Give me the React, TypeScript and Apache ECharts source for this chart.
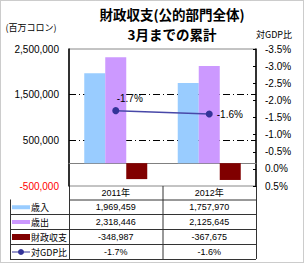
import React, { useEffect, useRef } from "react";
import * as echarts from "echarts";

const categories = ["2011年", "2012年"];
const revenue = [1969459, 1757970];
const expenditure = [2318446, 2125645];
const balance = [-348987, -367675];
const gdpRatio = [-1.7, -1.6];
const seriesNames = ["歳入", "歳出", "財政収支", "対GDP比"];
const leftTicks = { min: -500000, max: 2500000, interval: 1000000 };
const rightTicks = { min: -3.5, max: 0.5, interval: 0.5 };

const COLORS = ["#99CCFF", "#CC99FF", "#800000", "#333399"];
const FONT = "'Liberation Sans', 'Noto Sans CJK JP', sans-serif";
const JFONT = "'Noto Sans CJK JP', sans-serif";

const fmt = (v: number) => v.toLocaleString("en-US");
const pct = (v: number) => v.toFixed(1) + "%";

export default function App() {
  const ref = useRef<HTMLDivElement>(null);
  useEffect(() => {
    document.body.style.margin = "0";
    const chart = echarts.init(ref.current!, null, { renderer: "svg" });
    const L = 69, R = 256, T = 49, B = 186;
    const catW = (R - L) / categories.length;
    const rowY = [B, 199.5, 214, 229, 244, 259];
    const tableX0 = 10;
    const lineColor = "#333";

    const graphics: any[] = [];
    graphics.push({ type: "rect", shape: { x: 0.5, y: 0.5, width: 303, height: 262 }, style: { fill: "none", stroke: "#999", lineWidth: 1, lineDash: [1, 1] }, silent: true });
    graphics.push({ type: "text", x: 172, y: 14, style: { text: "財政収支(公的部門全体)", font: `bold 13.5px ${JFONT}`, lineHeight: 14, fill: "#000", align: "center", verticalAlign: "middle" } });
    graphics.push({ type: "text", x: 172, y: 33.5, style: { text: "3月までの累計", font: `bold 13.5px ${JFONT}`, lineHeight: 14, fill: "#000", align: "center", verticalAlign: "middle" } });
    graphics.push({ type: "text", x: 31, y: 27, style: { text: "(百万コロン)", font: `9px ${JFONT}`, lineHeight: 11, fill: "#000", align: "center", verticalAlign: "middle" } });
    graphics.push({ type: "text", x: 274, y: 34, style: { text: "対GDP比", font: `9px ${JFONT}`, lineHeight: 11, fill: "#000", align: "center", verticalAlign: "middle" } });

    const hl = (x1: number, x2: number, y: number) => graphics.push({ type: "line", shape: { x1, y1: y, x2, y2: y }, style: { stroke: lineColor, lineWidth: 1 }, silent: true });
    const vl = (x: number, y1: number, y2: number) => graphics.push({ type: "line", shape: { x1: x, y1, x2: x, y2 }, style: { stroke: lineColor, lineWidth: 1 }, silent: true });
    for (let i = 1; i < rowY.length; i++) hl(i === 1 ? L : tableX0, R, rowY[i] + 0.5);
    vl(tableX0 + 0.5, rowY[1], rowY[5]);
    for (let c = 0; c <= categories.length; c++) vl(L + c * catW + 0.5, rowY[0], rowY[5]);

    categories.forEach((c, i) => {
      graphics.push({ type: "text", x: L + catW * (i + 0.5), y: (rowY[0] + rowY[1]) / 2 + 0.5, style: { text: c, font: `9px ${FONT}`, lineHeight: 11, fill: "#000", align: "center", verticalAlign: "middle" } });
    });
    const rows = [revenue.map(fmt), expenditure.map(fmt), balance.map(fmt), gdpRatio.map(pct)];
    rows.forEach((vals, r) => {
      const cy = (rowY[r + 1] + rowY[r + 2]) / 2 + 0.5;
      vals.forEach((v, i) => {
        graphics.push({ type: "text", x: L + catW * (i + 0.5), y: cy, style: { text: v, font: `9px ${FONT}`, lineHeight: 11, fill: "#000", align: "center", verticalAlign: "middle" } });
      });
      graphics.push({ type: "text", x: 31, y: cy, style: { text: seriesNames[r], font: `9px ${JFONT}`, lineHeight: 11, fill: "#000", align: "left", verticalAlign: "middle" } });
      if (r < 2) {
        graphics.push({ type: "rect", shape: { x: 12, y: cy - 2, width: 18, height: 4 }, style: { fill: COLORS[r] } });
      } else if (r === 2) {
        graphics.push({ type: "rect", shape: { x: 12, y: cy - 3, width: 18, height: 6 }, style: { fill: COLORS[2] } });
      } else {
        graphics.push({ type: "line", shape: { x1: 12, y1: cy, x2: 30, y2: cy }, style: { stroke: COLORS[3], lineWidth: 1 } });
        graphics.push({ type: "circle", shape: { cx: 21, cy, r: 3 }, style: { fill: COLORS[3] } });
      }
    });

    chart.setOption({
      animation: false,
      grid: { left: L, right: 305 - R, top: T, bottom: 264 - B, show: true, borderColor: "#888", borderWidth: 1 },
      xAxis: {
        type: "category",
        data: categories,
        axisLine: { show: true, onZero: true, lineStyle: { color: "#808080", width: 1 } },
        axisTick: { show: false },
        axisLabel: { show: false },
      },
      yAxis: [
        {
          type: "value",
          min: leftTicks.min,
          max: leftTicks.max,
          interval: leftTicks.interval,
          axisLine: { show: true, lineStyle: { color: "#000", width: 1.5 } },
          axisTick: { show: false },
          axisLabel: {
            fontSize: 10,
            fontFamily: FONT,
            margin: 10,
            formatter: (v: number) => fmt(v),
            color: (v: any) => (Number(v) < 0 ? "#FF0000" : "#000"),
          },
          splitLine: { show: true, showMinLine: false, showMaxLine: false, lineStyle: { color: "#000", width: 1, type: [7, 3, 1, 3] } },
        },
        {
          type: "value",
          position: "right",
          inverse: true,
          min: rightTicks.min,
          max: rightTicks.max,
          interval: rightTicks.interval,
          axisLine: { show: true, lineStyle: { color: "#000", width: 1.5 } },
          axisTick: { show: true, inside: true, length: 3, lineStyle: { color: "#000" } },
          axisLabel: { fontSize: 10, fontFamily: FONT, color: "#000", margin: 9, formatter: (v: number) => pct(v) },
          splitLine: { show: false },
        },
      ],
      series: [
        { name: seriesNames[0], type: "bar", data: revenue, barWidth: 21, barGap: "0%", itemStyle: { color: COLORS[0] } },
        { name: seriesNames[1], type: "bar", data: expenditure, barWidth: 21, barGap: "0%", itemStyle: { color: COLORS[1] } },
        { name: seriesNames[2], type: "bar", data: balance, barWidth: 21, barGap: "0%", itemStyle: { color: COLORS[2] } },
        {
          name: seriesNames[3],
          type: "line",
          yAxisIndex: 1,
          data: gdpRatio.map((v, i) => ({
            value: v,
            label: i === 0 ? { position: "top", offset: [14, -1], distance: 3 } : { position: "right", distance: 4 },
          })),
          symbol: "circle",
          symbolSize: 7,
          lineStyle: { color: "#4848a8", width: 1.5 },
          itemStyle: { color: COLORS[3] },
          label: { show: true, fontSize: 10, fontFamily: FONT, color: "#000", formatter: (p: any) => pct(p.value) },
          z: 5,
        },
      ],
      graphic: graphics,
    });
    return () => chart.dispose();
  }, []);
  return <div ref={ref} style={{ width: 305, height: 264 }} />;
}
